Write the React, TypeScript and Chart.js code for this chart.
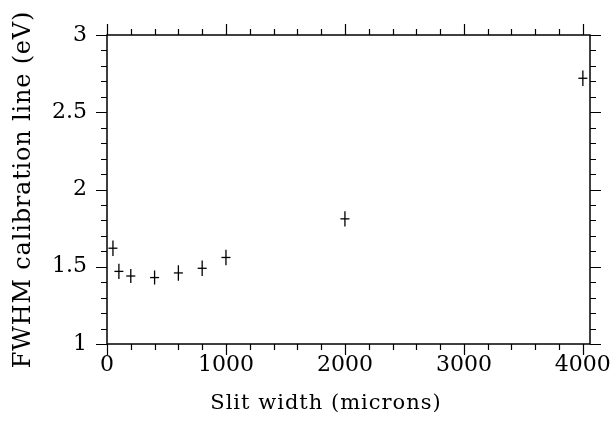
import React, { useEffect, useRef } from "react";
import { Chart, registerables } from "chart.js";

Chart.register(...registerables);

const slitWidth = [50, 100, 200, 400, 600, 800, 1000, 2000, 4000];
const fwhm = [1.62, 1.47, 1.44, 1.43, 1.46, 1.49, 1.56, 1.81, 2.72];
const fwhmErr = [0.05, 0.05, 0.045, 0.045, 0.05, 0.05, 0.05, 0.05, 0.05];

const xMajorTicks = [0, 1000, 2000, 3000, 4000];
const xMinorStep = 200;
const yMajorTicks = [1, 1.5, 2, 2.5, 3];
const yMinorStep = 0.1;

const xTitle = "Slit width (microns)";
const yTitle = "FWHM calibration line (eV)";

const FONT = "'DejaVu Serif', 'Liberation Serif', serif";

const framePlugin = {
  id: "frameTicks",
  afterDraw(chart: any) {
    const { ctx, chartArea: a, scales } = chart;
    const xs = scales.x;
    const ys = scales.y;
    ctx.save();
    ctx.strokeStyle = "#000";
    ctx.lineWidth = 1.5;
    ctx.strokeRect(a.left, a.top, a.right - a.left, a.bottom - a.top);
    const MAJ = 11;
    const MIN = 6;
    ctx.lineWidth = 1.2;
    ctx.beginPath();
    for (let v = xs.min; v <= xs.max + 1e-9; v += xMinorStep) {
      const isMaj = xMajorTicks.some((t) => Math.abs(t - v) < 1e-6);
      const len = isMaj ? MAJ : MIN;
      const px = Math.round(xs.getPixelForValue(v)) + 0.5;
      ctx.moveTo(px, a.bottom);
      ctx.lineTo(px, a.bottom + len);
      ctx.moveTo(px, a.top);
      ctx.lineTo(px, a.top - len);
    }
    for (let i = 0; ; i++) {
      const v = ys.min + i * yMinorStep;
      if (v > ys.max + 1e-9) break;
      const isMaj = yMajorTicks.some((t) => Math.abs(t - v) < 1e-6);
      const len = isMaj ? MAJ : MIN;
      const py = Math.round(ys.getPixelForValue(v)) + 0.5;
      ctx.moveTo(a.left, py);
      ctx.lineTo(a.left - len, py);
      ctx.moveTo(a.right, py);
      ctx.lineTo(a.right + len, py);
    }
    ctx.stroke();

    // error bars
    ctx.lineWidth = 1.3;
    ctx.beginPath();
    slitWidth.forEach((x, i) => {
      const px = xs.getPixelForValue(x);
      ctx.moveTo(px, ys.getPixelForValue(fwhm[i] - fwhmErr[i]));
      ctx.lineTo(px, ys.getPixelForValue(fwhm[i] + fwhmErr[i]));
    });
    ctx.stroke();

    // axis titles
    ctx.fillStyle = "#000";
    ctx.textAlign = "center";
    ctx.textBaseline = "middle";
    ctx.font = `21px ${FONT}`;
    (ctx as any).letterSpacing = "1px";
    ctx.fillText(xTitle, 326, 404);
    ctx.font = `24px ${FONT}`;
    (ctx as any).letterSpacing = "0.8px";
    ctx.translate(24, 189.5);
    ctx.rotate(-Math.PI / 2);
    ctx.fillText(yTitle, 0, 0);
    ctx.restore();
  },
};

export default function App() {
  const ref = useRef<HTMLCanvasElement | null>(null);
  useEffect(() => {
    if (!ref.current) return;
    const chart = new Chart(ref.current, {
      type: "scatter",
      data: {
        datasets: [
          {
            data: slitWidth.map((x, i) => ({ x, y: fwhm[i] })),
            pointStyle: "line",
            pointRadius: 4.5,
            borderColor: "#000",
            backgroundColor: "#000",
            pointBorderWidth: 1.3,
          },
        ],
      },
      options: {
        responsive: false,
        animation: false,
        layout: { padding: { top: 35, right: 26, left: 0, bottom: 0 } },
        plugins: {
          legend: { display: false },
          tooltip: { enabled: false },
        },
        scales: {
          x: {
            type: "linear",
            min: 0,
            max: 4060,
            afterBuildTicks: (s: any) => {
              s.ticks = xMajorTicks.map((v) => ({ value: v }));
            },
            afterFit: (s: any) => {
              s.height = 81;
              s.paddingLeft = 0;
              s.paddingRight = 0;
            },
            grid: { display: false, drawTicks: false },
            border: { display: false },
            ticks: {
              color: "#000",
              font: { family: FONT, size: 22 },
              padding: 8,
              maxRotation: 0,
              callback: (v: any) => String(v),
            },
          },
          y: {
            type: "linear",
            min: 1,
            max: 3,
            afterBuildTicks: (s: any) => {
              s.ticks = yMajorTicks.map((v) => ({ value: v }));
            },
            afterFit: (s: any) => {
              s.width = 107;
              s.paddingTop = 0;
              s.paddingBottom = 0;
            },
            grid: { display: false, drawTicks: false },
            border: { display: false },
            ticks: {
              color: "#000",
              font: { family: FONT, size: 22 },
              padding: 20,
              callback: (v: any) => String(v),
            },
          },
        },
      },
      plugins: [framePlugin],
    });
    return () => chart.destroy();
  }, []);
  return (
    <canvas
      ref={ref}
      width={616}
      height={425}
      style={{ position: "absolute", left: 0, top: 0, background: "#fff" }}
    />
  );
}
